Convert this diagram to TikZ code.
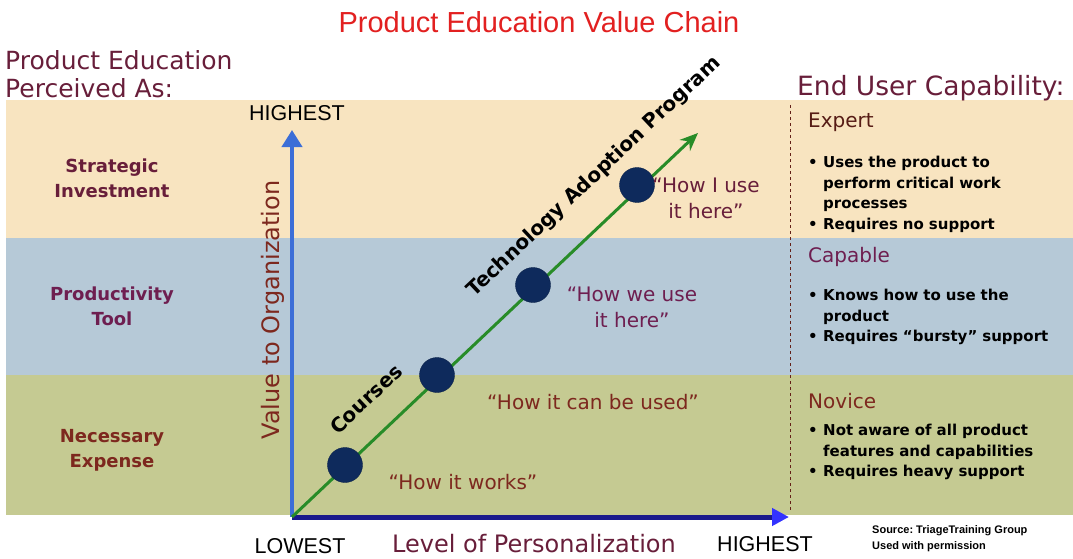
\documentclass[tikz,border=0pt]{standalone}
\usepackage{fontspec}
\setmainfont{DejaVu Sans}
\newfontfamily\arialf{Liberation Sans}
\usetikzlibrary{arrows.meta}

\definecolor{tanband}{RGB}{248,228,192}
\definecolor{blueband}{RGB}{182,201,215}
\definecolor{greenband}{RGB}{197,202,146}
\definecolor{maroon}{RGB}{104,30,58}
\definecolor{plum}{RGB}{110,30,80}
\definecolor{rust}{RGB}{125,40,30}
\definecolor{titlered}{RGB}{226,32,32}
\definecolor{dotblue}{RGB}{14,42,92}
\definecolor{linegreen}{RGB}{40,140,40}
\definecolor{axisblue}{RGB}{60,110,215}
\definecolor{navy}{RGB}{26,26,140}

\newcommand{\bul}[1]{\par\noindent\hyphenpenalty=10000\relax\exhyphenpenalty=10000\relax
  \hangindent=1em\hangafter=1\makebox[1em][l]{•}#1}

\begin{document}
\begin{tikzpicture}[x=1pt,y=-1pt,
    band/.style={align=center,font=\fontsize{18}{25}\selectfont\bfseries},
    head/.style={anchor=west,inner sep=0pt,font=\fontsize{20}{24}\selectfont},
    bullets/.style={anchor=north west,inner sep=0pt,text width=245pt,align=left,
      font=\fontsize{15}{20.5}\selectfont\bfseries},
    quote/.style={align=center,font=\fontsize{20}{26}\selectfont},
    dot/.style={circle,fill=dotblue,draw=dotblue!80!black,minimum size=35pt,inner sep=0pt},
    slanted/.style={rotate=43.3,font=\fontsize{20}{24}\selectfont\bfseries},
    caps/.style={font=\arialf\fontsize{21.5}{24}\selectfont},
    big/.style={maroon,anchor=west,inner sep=0pt,font=\fontsize{25}{28}\selectfont}]
  \useasboundingbox (0,0) rectangle (1073,559);
  % background bands
  \fill[tanband] (6,100) rectangle (1073,238);
  \fill[blueband] (6,238) rectangle (1073,375);
  \fill[greenband] (6,375) rectangle (1073,515);

  \node[titlered,font=\arialf\fontsize{29}{32}\selectfont] (title) at (539,22) {Product Education Value Chain};
  \node[big] (perc1) at (5,60) {Product Education};
  \node[big] (perc2) at (5,88) {Perceived As:};
  \node[big,font=\fontsize{26.5}{28}\selectfont] (cap) at (797,88) {End User Capability:};

  \node[band,maroon] (strat) at (112,178) {Strategic\\Investment};
  \node[band,plum] (prod) at (112,306) {Productivity\\Tool};
  \node[band,rust] (nec) at (112,450) {Necessary\\Expense};

  % axes
  \coordinate (o) at (292,517);
  \coordinate (ytop) at (292,130);
  \coordinate (xend) at (789,517);
  \coordinate (gend) at (698,133);
  \draw[axisblue,line width=4pt,-{Triangle[length=17pt,width=20pt]}] (o) -- (ytop);
  \draw[navy,line width=5pt,-{Triangle[length=17pt,width=17pt,fill=blue!80!white,color=blue!80!white]}] (o) -- (xend);
  \draw[linegreen,line width=3pt,-{Stealth[length=18pt,width=15pt]}] (o) -- (gend);
  \draw[rust!80!black,dashed,line width=0.8pt] (790,105) -- (790,512);

  \node[caps] (yhi) at (297,113) {HIGHEST};
  \node[caps] (xlo) at (300,546) {LOWEST};
  \node[caps] (xhi) at (765,544) {HIGHEST};
  \node[rust,rotate=90,font=\fontsize{24}{28}\selectfont] (ylab) at (273,310) {Value to Organization};
  \node[maroon,font=\fontsize{24}{28}\selectfont] (xlab) at (534,544) {Level of Personalization};

  % stages along the program
  \node[dot] (d1) at (345,465) {};
  \node[dot] (d2) at (437,375) {};
  \node[dot] (d3) at (533,285) {};
  \node[dot] (d4) at (637,185) {};
  \node[slanted] (crs) at (366,399) {Courses};
  \node[slanted] (tap) at (594,177) {Technology Adoption Program};

  \node[quote,rust] (q1) at (463,482) {“How it works”};
  \node[quote,rust] (q2) at (593,402) {“How it can be used”};
  \node[quote,plum] (q3) at (632,307) {“How we use\\it here”};
  \node[quote,maroon] (q4) at (706,198) {“How I use\\it here”};

  % capability column
  \node[head,rust!70!black] (exp) at (808,122) {Expert};
  \node[bullets] (expb) at (808,147) {\bul{Uses the product to perform critical work processes}\bul{Requires no support}};
  \node[head,plum] (cbl) at (808,257) {Capable};
  \node[bullets] (cblb) at (808,280) {\bul{Knows how to use the product}\bul{Requires “bursty” support}};
  \node[head,rust] (nov) at (808,401) {Novice};
  \node[bullets] (novb) at (808,415) {\bul{Not aware of all product features and capabilities}\bul{Requires heavy support}};

  \node[anchor=west,inner sep=0pt,align=left,font=\arialf\fontsize{11}{16}\selectfont\bfseries] (src) at (872,539) {Source:\ TriageTraining Group\\Used with permission};
\end{tikzpicture}
\end{document}
